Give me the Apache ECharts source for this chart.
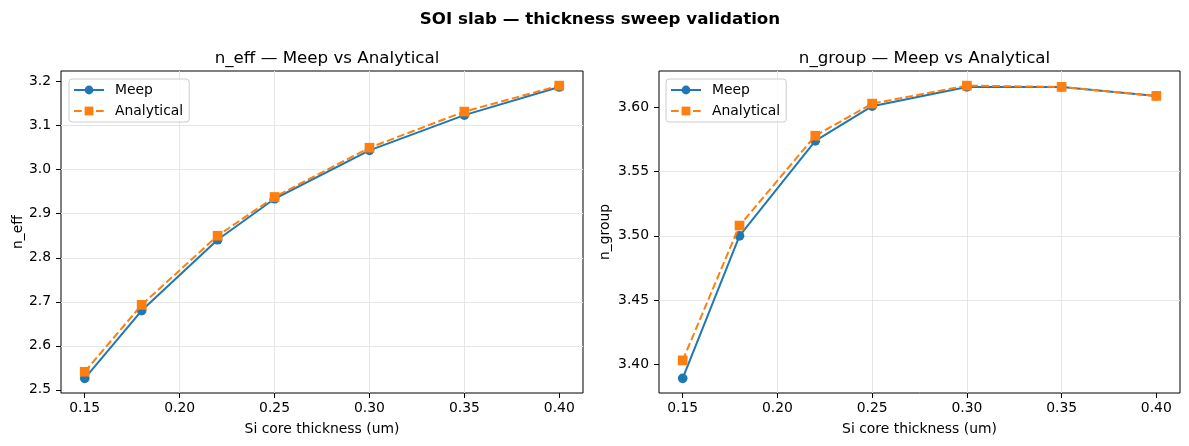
<!DOCTYPE html>
<html lang="en">
<head>
<meta charset="UTF-8">
<title>SOI slab — thickness sweep validation</title>
<script src="https://cdn.jsdelivr.net/npm/echarts@6/dist/echarts.min.js"></script>
<style>
  html, body { margin: 0; padding: 0; background: #fff; }
  #chart { width: 1189px; height: 446px; }
</style>
</head>
<body>
<div id="chart"></div>
<script>
  // Si core thickness (um)
  var thickness = [0.15, 0.18, 0.22, 0.25, 0.30, 0.35, 0.40];
  // effective index
  var neffMeep = [2.526, 2.680, 2.841, 2.934, 3.044, 3.124, 3.188];
  var neffAnalytical = [2.541, 2.693, 2.850, 2.938, 3.050, 3.132, 3.191];
  // group index
  var ngMeep = [3.389, 3.500, 3.574, 3.601, 3.616, 3.616, 3.609];
  var ngAnalytical = [3.403, 3.508, 3.578, 3.603, 3.617, 3.616, 3.609];
  // tick positions
  var xTicks = [0.15, 0.20, 0.25, 0.30, 0.35, 0.40];
  var neffTicks = [2.5, 2.6, 2.7, 2.8, 2.9, 3.0, 3.1, 3.2];
  var ngTicks = [3.40, 3.45, 3.50, 3.55, 3.60];

  var FONT = 'DejaVu Sans';
  var BLUE = '#1f77b4';
  var ORANGE = '#ff7f0e';

  // matplotlib-like 5% margins
  function limits(a, b) {
    var all = a.concat(b);
    var lo = Math.min.apply(null, all), hi = Math.max.apply(null, all);
    var pad = (hi - lo) * 0.05;
    return [lo - pad, hi + pad];
  }

  function pairs(xs, ys) {
    return xs.map(function (x, i) { return [x, ys[i]]; });
  }

  var xLim = limits(thickness, []);
  var neffLim = limits(neffMeep, neffAnalytical);
  var ngLim = limits(ngMeep, ngAnalytical);

  function axis(idx, lim, ticks, digits, splits, name, gap, margin) {
    return {
      type: 'value', gridIndex: idx,
      min: lim[0], max: lim[1], splitNumber: splits,
      name: name, nameLocation: 'middle', nameGap: gap,
      nameTextStyle: { fontFamily: FONT, fontSize: 13.9, color: '#000' },
      axisLine: { show: false },
      axisTick: { show: true, length: 5, customValues: ticks,
                  lineStyle: { color: '#000', width: 1 } },
      axisLabel: { fontFamily: FONT, fontSize: 13.9, color: '#000', margin: margin,
                   customValues: ticks,
                   formatter: function (v) { return v.toFixed(digits); } },
      splitLine: { show: true, showMinLine: false, showMaxLine: false,
                   lineStyle: { color: '#e6e6e6', width: 1 } }
    };
  }

  function meepSeries(idx, ys) {
    return {
      name: 'Meep', type: 'line', xAxisIndex: idx, yAxisIndex: idx,
      data: pairs(thickness, ys),
      symbol: 'circle', symbolSize: 9.7,
      lineStyle: { color: BLUE, width: 2 },
      itemStyle: { color: BLUE },
      z: 2
    };
  }

  function analyticalSeries(idx, ys) {
    return {
      name: 'Analytical', type: 'line', xAxisIndex: idx, yAxisIndex: idx,
      data: pairs(thickness, ys),
      symbol: 'rect', symbolSize: 9.7,
      lineStyle: { color: ORANGE, width: 2, type: [7.7, 3.3] },
      itemStyle: { color: ORANGE },
      z: 3
    };
  }

  function legend(left) {
    return {
      left: left, top: 79, orient: 'vertical',
      data: ['Meep', 'Analytical'],
      itemWidth: 30, itemHeight: 11, itemGap: 7,
      padding: [4, 6, 4, 4],
      backgroundColor: 'rgba(255,255,255,0.8)',
      borderColor: '#cccccc', borderWidth: 1, borderRadius: 3,
      textStyle: { fontFamily: FONT, fontSize: 13.9, color: '#000', padding: [0, 0, 0, 6] }
    };
  }

  var chart = echarts.init(document.getElementById('chart'));
  chart.setOption({
    animation: false,
    backgroundColor: '#fff',
    title: [
      { text: 'SOI slab — thickness sweep validation', left: 595, top: 6, textAlign: 'center',
        textStyle: { fontFamily: FONT, fontSize: 16.7, fontWeight: 'bold', color: '#000' } },
      { text: 'n_eff — Meep vs Analytical', left: 322, top: 45, textAlign: 'center',
        textStyle: { fontFamily: FONT, fontSize: 16.7, fontWeight: 'normal', color: '#000' } },
      { text: 'n_group — Meep vs Analytical', left: 919.5, top: 45, textAlign: 'center',
        textStyle: { fontFamily: FONT, fontSize: 16.7, fontWeight: 'normal', color: '#000' } }
    ],
    legend: [legend(69), legend(666)],
    grid: [
      { left: 61, right: 606, top: 71, bottom: 53, show: true, borderColor: '#000', borderWidth: 1 },
      { left: 659, right: 9, top: 71, bottom: 53, show: true, borderColor: '#000', borderWidth: 1 }
    ],
    xAxis: [
      axis(0, xLim, xTicks, 2, 5, 'Si core thickness (um)', 29, 8),
      axis(1, xLim, xTicks, 2, 5, 'Si core thickness (um)', 29, 8)
    ],
    yAxis: [
      axis(0, neffLim, neffTicks, 1, 7, 'n_eff', 36, 10),
      axis(1, ngLim, ngTicks, 2, 5, 'n_group', 47, 10)
    ],
    series: [
      meepSeries(0, neffMeep), analyticalSeries(0, neffAnalytical),
      meepSeries(1, ngMeep), analyticalSeries(1, ngAnalytical)
    ]
  });
</script>
</body>
</html>
